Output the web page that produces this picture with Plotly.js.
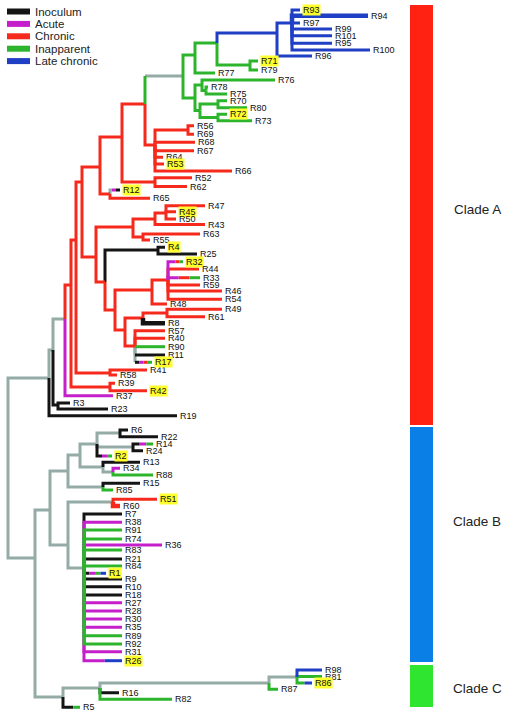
<!DOCTYPE html>
<html><head><meta charset="utf-8">
<script src="https://cdn.plot.ly/plotly-3.0.1.min.js"></script>
<style>html,body{margin:0;padding:0;background:#fff}#chart{width:509px;height:714px}</style>
</head><body><div id="chart"></div>
<script>
// ---- legend categories ----
const stateKeys   = ['k','p','r','g','b'];
const stateNames  = ['Inoculum','Acute','Chronic','Inapparent','Late chronic'];
const stateColors = {k:'#141414', p:'#c41fca', r:'#f52a1c', g:'#2cb52c', b:'#1f3fc4', s:'#94aba6'};

// ---- clades ----
const cladeNames  = ['Clade A','Clade B','Clade C'];
const cladeTop    = [5, 427, 665];
const cladeBottom = [425, 662, 707];
const cladeLabelRow = [209, 521, 688];
const cladeColors = ['#ff2212','#0a80e6','#30e530'];

// ---- tree: [node, parent, distance, row, state(s)] ----
const rootRows = [
  ['n0','',8,468,'s'],
  ['nA','n0',49,378,'s'],
  ['nBC','n0',35,558,'s']
];
const cladeABasal = [
  ['nA1','nA',53,350,'s'], ['R19','nA',177,415.7,'k'],
  ['nA2','nA1',65,319,'s'], ['n323','nA1',58,405,'k'],
  ['R3','n323',70,403,'k'], ['R23','n323',108,409,'k'],
  ['RA','nA2',71,285,'r'], ['R37','nA2',113,395.7,'p'],
  ['RB','RA',76,240,'r'], ['n3942','RA',110,387,'r'],
  ['R39','n3942',115,383.3,'r'], ['R42','n3942',147,390.7,'r'],
  ['n4158','RB',110,373,'r'], ['R41','n4158',147,370,'r'], ['R58','n4158',117,375,'r'],
  ['RC','RB',82,182,'r'], ['P1','RC',100,167,'r'], ['R0','P1',122,137,'r'],
  ['C4','P1',110,194,'r'], ['R12','C4',120,190,'s:1|p:2|k:2'], ['R65','C4',150,198.3,'r']
];
const cladeATop = [
  ['G0','R0',145,104,'r'], ['Gg','G0',183,76,'s'],
  ['G1','Gg',195,55,'g'], ['G2','G1',217,43,'g'],
  ['B0','G2',277,33,'b'], ['B1','B0',292,23,'b'],
  ['R93','B1',300,10,'b'], ['R94','B1',368,15.7,'b'], ['R97','B1',300,23,'b'],
  ['R99','B1',332,29,'b'], ['R101','B1',332,35.7,'b'], ['R95','B1',332,43.3,'b'],
  ['R100','B1',370,50,'b'], ['R96','B0',312,56,'b'],
  ['G3','G2',250,65,'g'], ['R71','G3',258,61,'g'], ['R79','G3',258,70,'g'],
  ['R77','G1',215,73,'g'],
  ['G4','Gg',195,98,'g'], ['G5','G4',202,85,'g'], ['R76','G5',275,80,'g'],
  ['G5b','G5',206,90.5,'g'], ['R78','G5b',208,87,'g'], ['R75','G5b',227,94,'g'],
  ['G6','G4',200,110.5,'g'], ['G7','G6',218,104,'g'], ['R70','G7',227,100.7,'g'], ['R80','G7',247,107.7,'g'],
  ['G8','G6',218,117.5,'g'], ['R72','G8',227,114.3,'g'], ['R73','G8',252,120.7,'g'],
  ['C1','G0',155,145,'r'], ['C2','C1',188,130,'r'], ['R56','C2',194,125.7,'r'], ['R69','C2',194,134.3,'r'],
  ['R68','C1',195,142.3,'r'], ['R67','C1',194,150.7,'r'], ['R64','C1',163,157.3,'r'],
  ['R53','C1',164,164,'r'], ['R66','C1',232,171,'r'],
  ['C3','R0',155,182,'r'], ['R52','C3',192,177.7,'r'], ['R62','C3',187,186.5,'r']
];
const cladeAMiddle = [
  ['P3','RC',96,257,'r'], ['C8','P3',133,227,'r'], ['C5','C8',155,219,'r'],
  ['C6','C5',166,213,'r'], ['R47','C6',205,205.7,'r'], ['R45','C6',176,211.7,'r'], ['R50','C6',176,219,'r'],
  ['R43','C5',205,224.5,'r'], ['C7','C8',143,237,'r'], ['R63','C7',200,234,'r'], ['R55','C7',150,240,'r'],
  ['n105','P3',105,282,'r'], ['C9','n105',158,250,'k'], ['R4','C9',165,247.3,'k'], ['R25','C9',197,254,'k'],
  ['n115','n105',115,310,'r'], ['C12','n115',152,290,'r'], ['C11','C12',168,280,'r'],
  ['R32','C11',183,261.7,'p:2|r:1|g:1'], ['R44','C11',199,269,'r'], ['R33','C11',200,277.7,'p|r|g'],
  ['R59','C11',200,285,'r'], ['R46','C11',222,291,'r'], ['R54','C11',222,299.3,'r'], ['R48','C12',167,304,'r'],
  ['n125','n115',125,330,'r'], ['C14','n125',143,318,'r'], ['C13','C14',167,313,'r'],
  ['R49','C13',222,309.3,'r'], ['R61','C13',205,316.7,'r'], ['R8','C14',165,323.3,'k'],
  ['C15','n125',135,346,'r'], ['R57','C15',165,330.7,'r'], ['R40','C15',165,338.3,'r'],
  ['R90','C15',165,346.7,'g'], ['R11','C15',165,355,'k'], ['R17','C15',152,362.3,'k|p|r|g']
];
const cladeBRows = [
  ['nB','nBC',50,510,'s'], ['n68','nB',68,471,'s'], ['n80','n68',80,455,'s'], ['n97','n80',97,444,'s'],
  ['nR6','n97',120,433,'s'], ['R6','nR6',128,430,'k'], ['R22','nR6',158,436.7,'k'],
  ['nR14','n97',133,447,'s'], ['R14','nR14',153,444,'k|p|g'], ['R24','nR14',143,450.7,'k'],
  ['R2','n97',112,456,'k|p|g'], ['n103','n80',103,467,'s'], ['R13','n103',140,462.3,'k'],
  ['nR34','n103',113,472,'s'], ['R34','nR34',120,468.3,'p'], ['R88','nR34',153,475,'g'],
  ['nR15','n68',103,487,'s'], ['R15','nR15',140,483.3,'k'], ['R85','nR15',113,490,'g'],
  ['n68b','nB',68,545,'s'], ['nR51','n68b',113,502,'s'], ['R51','nR51',157,499.3,'r'], ['R60','nR51',120,506,'r'],
  ['nP','n68b',84,568,'s']
];
const polyLeaves = ['R7','R38','R91','R74','R36','R83','R21','R84','R1','R9','R10','R18','R27','R28','R30','R35','R89','R92','R31','R26'];
const polyRows   = [514,522.3,530,539,545,550,559,566,573.3,579,586.7,595,602.7,611,619,627.3,635.7,644,651.7,660.7];
const polyDist   = [122,122,122,122,162,122,122,122,106,122,122,122,122,122,122,122,122,122,122,122];
const polyStates = ['k','p','g','g','p','g','k','g','k|p|g|b','k','k','k','p','p','p','p','g','g','p','p:1.2|b:1'];
const cladeCRows = [
  ['nC','nBC',63,697,'s'], ['nC1','nC',100,688,'s'], ['nC2','nC1',269,683,'s'], ['nC3','nC2',297,677,'s'],
  ['R98','nC3',322,670,'b'], ['R81','nC3',322,676.5,'g'], ['R86','nC3',312,683,'g|b'],
  ['R87','nC2',278,689.3,'g'], ['R16','nC1',119,692.7,'k'], ['R82','nC1',172,699.3,'g'], ['R5','nC',80,707.3,'k:3|g:2']
];
const verticalStates = {Gg:'g', R90:'s', R11:'s', R17:'s', R12:'s'};
const highlighted = ['R93','R71','R72','R53','R12','R45','R4','R32','R17','R42','R2','R51','R1','R26','R86'];
const thickBranches = ['R94','R8','R60'];

// ---- build tree ----
const polyTable = polyLeaves.map((n,i)=>[n,'nP',polyDist[i],polyRows[i],polyStates[i]]);
const rows = [].concat(rootRows, cladeABasal, cladeATop, cladeAMiddle, cladeBRows, polyTable, cladeCRows);
const nodes = {};
rows.forEach(r => nodes[r[0]] = {name:r[0], parent:r[1], x:r[2], y:r[3], state:r[4], children:[]});
rows.forEach(r => { if (r[1]) nodes[r[1]].children.push(r[0]); });

const segs = {};
function add(col, w, xs, ys){
  const key = col + '_' + w;
  if(!segs[key]) segs[key] = {col, w, x:[], y:[]};
  segs[key].x.push(...xs, null); segs[key].y.push(...ys, null);
}
rows.forEach(r => {
  const n = nodes[r[0]]; if(!n.parent) return;
  const p = nodes[n.parent];
  const w = thickBranches.includes(n.name) ? 4.5 : 3;
  const parts = n.state.split('|').map(s => { const a = s.split(':'); return {c:a[0], w: a[1]?parseFloat(a[1]):1}; });
  const tot = parts.reduce((s,a)=>s+a.w,0);
  const vcol = verticalStates[n.name] || parts[0].c;
  let cx = p.x;
  parts.forEach((pt,i) => {
    const nx = cx + (n.x - p.x) * pt.w / tot;
    if(i===0 && pt.c===vcol){ add(pt.c, w, [p.x,p.x,nx],[p.y,n.y,n.y]); }
    else { if(i===0) add(vcol, 3, [p.x,p.x],[p.y,n.y]); add(pt.c, w, [cx,nx],[n.y,n.y]); }
    cx = nx;
  });
});
const traces = Object.values(segs).map(s => ({
  type:'scatter', mode:'lines', x:s.x, y:s.y, hoverinfo:'skip', showlegend:false,
  line:{color:stateColors[s.col], width:s.w}
}));

const annotations = [];
const shapes = [];
rows.forEach(r => {
  const n = nodes[r[0]];
  if(n.children.length) return;
  const hl = highlighted.includes(n.name);
  annotations.push({x:n.x+1.5, y:n.y, xref:'x', yref:'y', text:n.name, showarrow:false,
    xanchor:'left', yanchor:'middle', borderpad:0, bgcolor: hl ? '#ffff2e' : 'rgba(0,0,0,0)',
    font:{family:'Liberation Sans Narrow, Arial Narrow, sans-serif', size:9, color:'#111'}});
});
// clade bars
cladeNames.forEach((c,i) => {
  shapes.push({type:'rect', xref:'x', yref:'y', x0:410, x1:433, y0:cladeTop[i], y1:cladeBottom[i],
    fillcolor:cladeColors[i], line:{width:0}});
  annotations.push({x:477, y:cladeLabelRow[i], xref:'x', yref:'y', text:c, showarrow:false,
    xanchor:'center', yanchor:'middle', font:{family:'Liberation Sans, Arial, sans-serif', size:13.5, color:'#222'}});
});
// legend
stateKeys.forEach((k,i) => {
  const yy = 11.5 + i*12.4;
  shapes.push({type:'line', xref:'x', yref:'y', x0:7, x1:30, y0:yy, y1:yy, line:{color:stateColors[k], width:6}});
  annotations.push({x:33, y:yy, xref:'x', yref:'y', text:stateNames[i], showarrow:false, xanchor:'left', yanchor:'middle',
    font:{family:'Liberation Sans, Arial, sans-serif', size:11.5, color:'#222'}});
});

Plotly.newPlot('chart', traces, {
  width:509, height:714, margin:{l:0,r:0,t:0,b:0}, paper_bgcolor:'#fff', plot_bgcolor:'#fff',
  xaxis:{range:[0,509], visible:false, fixedrange:true},
  yaxis:{range:[714,0], visible:false, fixedrange:true},
  showlegend:false, shapes, annotations
}, {staticPlot:true});
</script></body></html>
